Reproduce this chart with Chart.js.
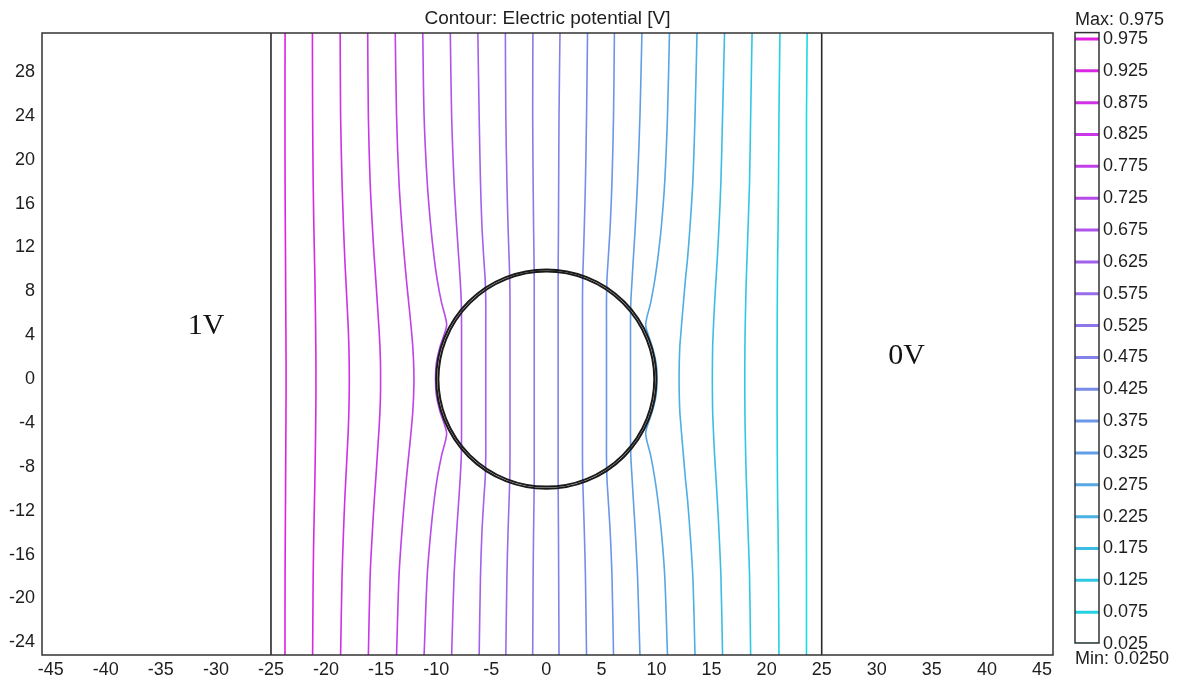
<!DOCTYPE html>
<html><head><meta charset="utf-8">
<script src="https://cdn.jsdelivr.net/npm/chart.js@4.4.1/dist/chart.umd.min.js"></script>
<style>
html,body{margin:0;padding:0;background:#fff;}
#wrap{position:relative;width:1180px;height:682px;overflow:hidden;}
#main{position:absolute;left:0;top:0;}
#bar{position:absolute;left:1060px;top:0;}
</style></head><body>
<div id="wrap"><canvas id="main" width="1060" height="682"></canvas><canvas id="bar" width="120" height="682"></canvas></div>
<script>
// ---------- data ----------
const titleText = 'Contour: Electric potential [V]';
const levels = [0.975,0.925,0.875,0.825,0.775,0.725,0.675,0.625,0.575,0.525,0.475,0.425,0.375,0.325,0.275,0.225,0.175,0.125,0.075,0.025];
const maxValue = 0.975;
const minValue = 0.025;
const xTicks = [-45,-40,-35,-30,-25,-20,-15,-10,-5,0,5,10,15,20,25,30,35,40,45];
const yTicks = [-24,-20,-16,-12,-8,-4,0,4,8,12,16,20,24,28];
const yRows = [31.6,24,18,14,11,9,7,5,4,3,1.5,0,-1.5,-3,-4,-5,-7,-9,-11,-14,-18,-25.2];

const x0975 = [-23.72,-23.73,-23.72,-23.70,-23.68,-23.67,-23.66,-23.65,-23.64,-23.64,-23.63,-23.63,-23.63,-23.64,-23.64,-23.65,-23.66,-23.67,-23.68,-23.70,-23.72,-23.73];
const x0925 = [-21.24,-21.22,-21.17,-21.11,-21.05,-21.01,-20.98,-20.95,-20.94,-20.93,-20.92,-20.92,-20.92,-20.93,-20.94,-20.95,-20.98,-21.01,-21.05,-21.11,-21.17,-21.22];
const x0875 = [-18.72,-18.68,-18.55,-18.42,-18.30,-18.20,-18.10,-18.00,-17.96,-17.93,-17.90,-17.89,-17.90,-17.93,-17.96,-18.00,-18.10,-18.20,-18.30,-18.42,-18.55,-18.68];
const x0825 = [-16.22,-16.16,-16.00,-15.80,-15.62,-15.48,-15.35,-15.22,-15.16,-15.11,-15.06,-15.05,-15.06,-15.11,-15.16,-15.22,-15.35,-15.48,-15.62,-15.80,-16.00,-16.16];
const x0775 = [-13.72,-13.60,-13.38,-13.12,-12.88,-12.70,-12.50,-12.30,-12.21,-12.13,-12.05,-12.02,-12.05,-12.13,-12.21,-12.30,-12.50,-12.70,-12.88,-13.12,-13.38,-13.60];
const x0725 = [-11.22,-11.10,-10.82,-10.50,-10.18,-9.90,-9.52,-9.05,-9.30,-9.64,-9.98,-10.06,-9.98,-9.64,-9.30,-9.05,-9.52,-9.90,-10.18,-10.50,-10.82,-11.10];
const x0675 = [-8.72,-8.60,-8.38,-8.15,-7.95,-7.82,-7.72,-7.70,-7.70,-7.70,-7.70,-7.70,-7.70,-7.70,-7.70,-7.70,-7.72,-7.82,-7.95,-8.15,-8.38,-8.60];
const x0625 = [-6.22,-6.10,-5.98,-5.85,-5.68,-5.55,-5.50,-5.50,-5.50,-5.50,-5.50,-5.50,-5.50,-5.50,-5.50,-5.50,-5.50,-5.55,-5.68,-5.85,-5.98,-6.10];
const x0575 = [-3.72,-3.68,-3.58,-3.48,-3.38,-3.32,-3.30,-3.30,-3.30,-3.30,-3.30,-3.30,-3.30,-3.30,-3.30,-3.30,-3.30,-3.32,-3.38,-3.48,-3.58,-3.68];
const x0525 = [-1.22,-1.24,-1.20,-1.16,-1.12,-1.10,-1.10,-1.10,-1.10,-1.10,-1.10,-1.10,-1.10,-1.10,-1.10,-1.10,-1.10,-1.10,-1.12,-1.16,-1.20,-1.24];
const x0475 = [1.24,1.15,1.12,1.10,1.08,1.07,1.07,1.07,1.07,1.07,1.07,1.07,1.07,1.07,1.07,1.07,1.07,1.07,1.08,1.10,1.12,1.15];
const x0425 = [3.74,3.65,3.55,3.45,3.36,3.30,3.28,3.28,3.28,3.28,3.28,3.28,3.28,3.28,3.28,3.28,3.28,3.30,3.36,3.45,3.55,3.65];
const x0375 = [6.18,6.10,5.96,5.80,5.62,5.50,5.46,5.46,5.46,5.46,5.46,5.46,5.46,5.46,5.46,5.46,5.46,5.50,5.62,5.80,5.96,6.10];
const x0325 = [8.68,8.50,8.28,8.08,7.90,7.78,7.67,7.64,7.64,7.64,7.64,7.64,7.64,7.64,7.64,7.64,7.67,7.78,7.90,8.08,8.28,8.50];
const x0275 = [11.18,11.00,10.75,10.45,10.12,9.84,9.48,9.02,9.26,9.60,9.96,10.04,9.96,9.60,9.26,9.02,9.48,9.84,10.12,10.45,10.75,11.00];
const x0225 = [13.68,13.50,13.30,13.05,12.82,12.62,12.45,12.28,12.20,12.12,12.07,12.05,12.07,12.12,12.20,12.28,12.45,12.62,12.82,13.05,13.30,13.50];
const x0175 = [16.18,16.00,15.85,15.68,15.52,15.40,15.28,15.18,15.14,15.10,15.08,15.07,15.08,15.10,15.14,15.18,15.28,15.40,15.52,15.68,15.85,16.00];
const x0125 = [18.68,18.55,18.45,18.32,18.22,18.15,18.10,18.06,18.04,18.03,18.02,18.02,18.02,18.03,18.04,18.06,18.10,18.15,18.22,18.32,18.45,18.55];
const x0075 = [21.21,21.12,21.08,21.04,21.00,20.98,20.97,20.96,20.96,20.95,20.95,20.95,20.95,20.95,20.96,20.96,20.97,20.98,21.00,21.04,21.08,21.12];
const x0025 = [23.68,23.62,23.62,23.61,23.61,23.61,23.61,23.61,23.61,23.61,23.61,23.61,23.61,23.61,23.61,23.61,23.61,23.61,23.61,23.61,23.62,23.62];

const plateX = [-25, 25];
const circleCenter = [0, 0];
const circleR = [10];
const regionLabels = ['1V', '0V'];
const labelX = [-30.9, 32.7];
const labelY = [4.8, 2.1];

// ---------- styling ----------
const contourX = [x0975,x0925,x0875,x0825,x0775,x0725,x0675,x0625,x0575,x0525,x0475,x0425,x0375,x0325,x0275,x0225,x0175,x0125,x0075,x0025];
const FONT = '"Liberation Sans", Arial, sans-serif';
const TXT = '#1e1e1e';
const cmapStops = [[0,[15,225,225]],[0.25,[80,172,228]],[0.5,[138,125,235]],[0.75,[188,68,235]],[1,[228,28,225]]];
function cmap(v){
  for(let i=0;i<cmapStops.length-1;i++){
    const [a,ca]=cmapStops[i],[b,cb]=cmapStops[i+1];
    if(v>=a && v<=b){const t=(v-a)/(b-a);return 'rgb('+ca.map((c,k)=>Math.round(c+(cb[k]-c)*t)).join(',')+')';}
  }
  return 'rgb(0,0,0)';
}
const colors = levels.map(cmap);

const contourSets = levels.map((lv,i)=>({
  data: yRows.map((yy,j)=>({x: contourX[i][j], y: yy})),
  showLine:true, borderColor: colors[i], borderWidth:1.6, pointRadius:0, tension:0.3, fill:false
}));
const plateSets = plateX.map(px=>({
  data:[{x:px,y:yRows[0]},{x:px,y:yRows[yRows.length-1]}],
  showLine:true, borderColor:'#2a2a2a', borderWidth:1.6, pointRadius:0, tension:0
}));

const shapesPlugin = {
  id:'shapes',
  afterDatasetsDraw(chart){
    const {ctx, chartArea:a, scales:{x,y}} = chart;
    ctx.save();
    const cx = x.getPixelForValue(circleCenter[0]), cy = y.getPixelForValue(circleCenter[1]);
    const rx = x.getPixelForValue(circleCenter[0]+circleR[0]) - cx;
    const ry = cy - y.getPixelForValue(circleCenter[1]+circleR[0]);
    ctx.strokeStyle = '#1a1a1a'; ctx.lineWidth = 2;
    ctx.beginPath(); ctx.ellipse(cx,cy,rx,ry,0,0,Math.PI*2); ctx.stroke();
    ctx.beginPath(); ctx.ellipse(cx,cy,rx-2.2,ry-2.2,0,0,Math.PI*2); ctx.stroke();
    ctx.font = '30px "Liberation Serif", "Times New Roman", serif';
    ctx.fillStyle = '#111'; ctx.textAlign='center'; ctx.textBaseline='middle';
    regionLabels.forEach((t,i)=>ctx.fillText(t, x.getPixelForValue(labelX[i]), y.getPixelForValue(labelY[i])));
    ctx.strokeStyle = '#333'; ctx.lineWidth = 1.5;
    ctx.strokeRect(a.left, a.top, a.right-a.left, a.bottom-a.top);
    ctx.restore();
  }
};

new Chart(document.getElementById('main'), {
  type:'scatter',
  data:{datasets:[...contourSets, ...plateSets]},
  options:{
    responsive:false, animation:false, events:[],
    layout:{padding:{left:0,right:7,top:0,bottom:0}},
    plugins:{
      legend:{display:false}, tooltip:{enabled:false},
      title:{display:true, text:titleText, fullSize:false, color:TXT,
        font:{family:FONT, size:19, weight:'normal', lineHeight:1.2}, padding:{top:7.5,bottom:2.7}}
    },
    scales:{
      x:{type:'linear', min:-45.79, max:46.0,
        grid:{display:false, drawTicks:false}, border:{display:false},
        afterBuildTicks:s=>{s.ticks = xTicks.map(v=>({value:v}));},
        afterFit:s=>{s.height = 27;},
        ticks:{color:TXT, font:{family:FONT,size:18}, padding:4, maxRotation:0, autoSkip:false}},
      y:{type:'linear', min:-25.15, max:31.55,
        grid:{display:false, drawTicks:false}, border:{display:false},
        afterBuildTicks:s=>{s.ticks = yTicks.map(v=>({value:v}));},
        afterFit:s=>{s.width = 42;},
        ticks:{color:TXT, font:{family:FONT,size:18}, padding:7, autoSkip:false}}
    }
  },
  plugins:[shapesPlugin]
});

const boxPlugin = {
  id:'box',
  afterDatasetsDraw(chart){
    const {ctx, chartArea:a} = chart;
    ctx.save(); ctx.strokeStyle='#333'; ctx.lineWidth=1.5;
    ctx.strokeRect(a.left, a.top, a.right-a.left, a.bottom-a.top);
    ctx.restore();
  }
};

new Chart(document.getElementById('bar'), {
  type:'scatter',
  data:{datasets: levels.map((v,i)=>({data:[{x:0,y:v},{x:1,y:v}], showLine:true, borderColor:colors[i], borderWidth:3, pointRadius:0}))},
  options:{
    responsive:false, animation:false, events:[],
    layout:{padding:{left:15,right:0,top:0,bottom:0}},
    plugins:{
      legend:{display:false}, tooltip:{enabled:false},
      title:{display:true, text:'Max: '+maxValue.toFixed(3), align:'start', color:TXT,
        font:{family:FONT,size:18,weight:'normal',lineHeight:1.2}, padding:{top:9,bottom:2}},
      subtitle:{display:true, text:'Min: '+minValue.toFixed(4), position:'bottom', align:'start', color:TXT,
        font:{family:FONT,size:18,weight:'normal',lineHeight:1.2}, padding:{top:5,bottom:12.4}}
    },
    scales:{
      x:{type:'linear', min:0, max:1, display:false},
      y:{type:'linear', position:'right', min:0.0266, max:0.985,
        grid:{display:false, drawTicks:false}, border:{display:false},
        afterBuildTicks:s=>{s.ticks = levels.map(v=>({value:v}));},
        afterFit:s=>{s.width = 81;},
        ticks:{callback:v=>Number(v).toFixed(3), padding:4, color:TXT, font:{family:FONT,size:18}, autoSkip:false}}
    }
  },
  plugins:[boxPlugin]
});
</script>
</body></html>
